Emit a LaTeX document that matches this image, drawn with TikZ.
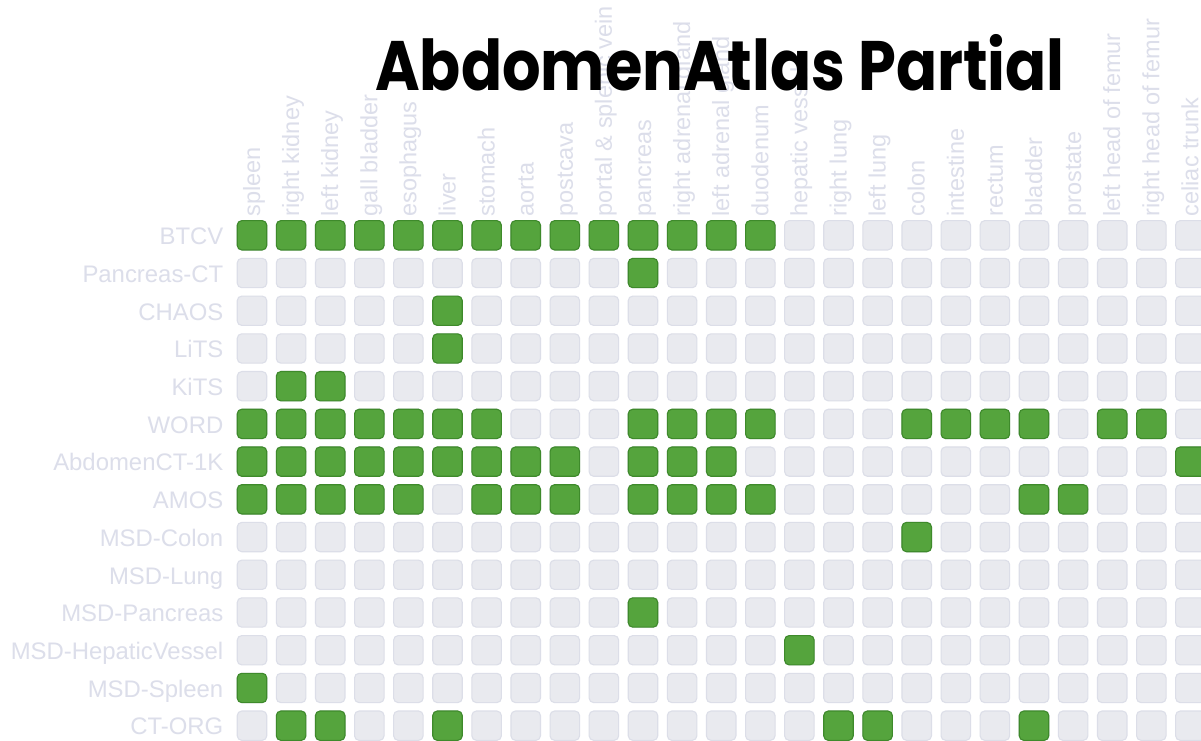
\documentclass[tikz,border=0pt]{standalone}
\usepackage{fontspec}
\setmainfont{Liberation Sans}
\newfontfamily\titlefont{Poppins}
\definecolor{lbl}{HTML}{DCDEEA}
\definecolor{cellfill}{HTML}{E9EAEF}
\definecolor{celledge}{HTML}{DCDEE8}
\definecolor{gfill}{HTML}{55A43D}
\definecolor{gedge}{HTML}{3E8A2B}
\tikzset{
  cellbase/.style={rounded corners=4.5pt, minimum width=29.5pt, minimum height=29.3pt, inner sep=0pt, line width=1.1pt},
  graycell/.style={cellbase, fill=cellfill, draw=celledge},
  greencell/.style={cellbase, fill=gfill, draw=gedge},
  rowlbl/.style={anchor=base east, inner sep=0pt, text=lbl, font=\fontsize{23.9}{28}\selectfont},
  collbl/.style={anchor=base west, rotate=90, inner sep=0pt, text=lbl, font=\fontsize{23.5}{28}\selectfont},
  titlelbl/.style={anchor=base west, inner sep=0pt, text=black, font=\titlefont\bfseries\fontsize{70}{76}\selectfont}
}
\begin{document}
\begin{tikzpicture}[x=1pt,y=-1pt]
\useasboundingbox (0,0) rectangle (1201,740);
\fill[white] (0,0) rectangle (1201,740);
% column labels
\foreach \c/\t in {0/spleen,1/right kidney,2/left kidney,3/gall bladder,4/esophagus,5/liver,6/stomach,7/aorta,8/postcava,9/portal \& splenic vein,10/pancreas,11/right adrenal gland,12/left adrenal gland,13/duodenum,14/hepatic vessel,15/right lung,16/left lung,17/colon,18/intestine,19/rectum,20/bladder,21/prostate,22/left head of femur,23/right head of femur,24/celiac trunk}
  \node[collbl] (col\c) at ({252+\c*39.1+8},216.5) {\t};
% row labels
\foreach \r/\t in {0/BTCV,1/Pancreas-CT,2/CHAOS,3/LiTS,4/KiTS,5/WORD,6/AbdomenCT-1K,7/AMOS,8/MSD-Colon,9/MSD-Lung,10/MSD-Pancreas,11/MSD-HepaticVessel,12/MSD-Spleen,13/CT-ORG}
  \node[rowlbl] (row\r) at (223.5,{235.3+\r*37.72+9.3}) {\t};
% gray cells
\foreach \r in {0,...,13}
  \foreach \c in {0,...,24}
    \node[graycell] (c\r-\c) at ({252+\c*39.1},{235.3+\r*37.72}) {};
% green cells
\foreach \r/\gl in {0/{0,1,2,3,4,5,6,7,8,9,10,11,12,13},1/{10},2/{5},3/{5},4/{1,2},5/{0,1,2,3,4,5,6,10,11,12,13,17,18,19,20,22,23},6/{0,1,2,3,4,5,6,7,8,10,11,12,24},7/{0,1,2,3,4,6,7,8,10,11,12,13,20,21},8/{17},10/{10},11/{14},12/{0},13/{1,2,5,15,16,20}}
  \foreach \c in \gl
    \node[greencell] (g\r-\c) at ({252+\c*39.1},{235.3+\r*37.72}) {};
% title
\node[titlelbl] (title) at (375,90) {\scalebox{0.866}[1]{AbdomenAtlas Partial}};
\end{tikzpicture}
\end{document}
